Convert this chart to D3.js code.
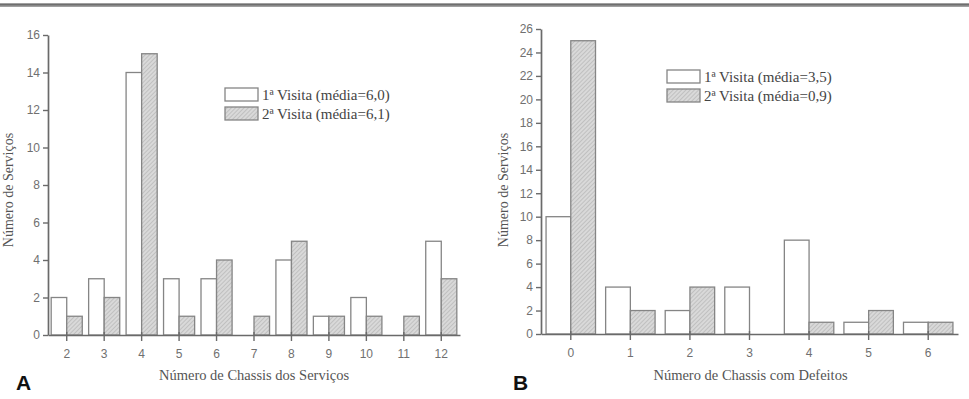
<!DOCTYPE html>
<html>
<head>
<meta charset="utf-8">
<script src="https://cdn.jsdelivr.net/npm/d3@7"></script>
<style>
  body { margin: 0; background: #fff; }
  svg { display: block; }
</style>
</head>
<body>
<div id="chart"></div>
<script>
// panel A data
const catsA = [2, 3, 4, 5, 6, 7, 8, 9, 10, 11, 12];
const visita1A = [2, 3, 14, 3, 3, 0, 4, 1, 2, 0, 5];
const visita2A = [1, 2, 15, 1, 4, 1, 5, 1, 1, 1, 3];
const legendA = ["1ª Visita (média=6,0)", "2ª Visita (média=6,1)"];

// panel B data
const catsB = [0, 1, 2, 3, 4, 5, 6];
const visita1B = [10, 4, 2, 4, 8, 1, 1];
const visita2B = [25, 2, 4, 0, 1, 2, 1];
const legendB = ["1ª Visita (média=3,5)", "2ª Visita (média=0,9)"];

const width = 969, height = 399;

const svg = d3.select("#chart").append("svg")
    .attr("width", width)
    .attr("height", height);

// hatch pattern for 2nd visit
const defs = svg.append("defs");
const pat = defs.append("pattern")
    .attr("id", "hatch")
    .attr("patternUnits", "userSpaceOnUse")
    .attr("width", 3)
    .attr("height", 3)
    .attr("patternTransform", "rotate(45)");
pat.append("rect").attr("width", 3).attr("height", 3).attr("fill", "#d9d9d9");
pat.append("line").attr("x1", 0).attr("y1", 0).attr("x2", 0).attr("y2", 3)
    .attr("stroke", "#ababab").attr("stroke-width", 1.1);

// top rule
svg.append("rect").attr("x", 0).attr("y", 3).attr("width", width).attr("height", 4).attr("fill", "#a0a0a0");
svg.append("rect").attr("x", 0).attr("y", 4).attr("width", width).attr("height", 1.5).attr("fill", "#6e6e6e");

function drawPanel(opt) {
    const x = d3.scaleBand().domain(opt.cats).range(opt.xRange).padding(0);
    const y = d3.scaleLinear().domain([0, opt.yMax]).range(opt.yRange);
    const g = svg.append("g");
    const bw = x.bandwidth() * 0.415;

    // bars visit 1
    g.selectAll(".b1").data(opt.cats).enter().append("rect")
        .attr("x", d => x(d) + x.bandwidth() / 2 - bw)
        .attr("y", (d, i) => y(opt.v1[i]))
        .attr("width", bw)
        .attr("height", (d, i) => y(0) - y(opt.v1[i]))
        .attr("fill", "#fff")
        .attr("stroke", "#858585")
        .attr("stroke-width", 1.3)
        .style("display", (d, i) => opt.v1[i] === 0 ? "none" : null);

    // bars visit 2
    g.selectAll(".b2").data(opt.cats).enter().append("rect")
        .attr("x", d => x(d) + x.bandwidth() / 2)
        .attr("y", (d, i) => y(opt.v2[i]))
        .attr("width", bw)
        .attr("height", (d, i) => y(0) - y(opt.v2[i]))
        .attr("fill", "url(#hatch)")
        .attr("stroke", "#858585")
        .attr("stroke-width", 1.3)
        .style("display", (d, i) => opt.v2[i] === 0 ? "none" : null);

    // y axis
    const yAxis = g.append("g")
        .attr("transform", "translate(" + opt.xRange[0] + ",0)")
        .call(d3.axisLeft(y).tickValues(d3.range(0, opt.yMax + 1, 2)).tickSizeInner(5).tickSizeOuter(0).tickPadding(3));

    // x axis
    const xAxis = g.append("g")
        .attr("transform", "translate(0," + opt.yRange[0] + ")")
        .call(d3.axisBottom(x).tickSizeInner(6).tickSizeOuter(0).tickPadding(8));
    xAxis.selectAll(".tick line").attr("y1", -3);

    [yAxis, xAxis].forEach(a => {
        a.select(".domain").attr("stroke", "#6a6a6a").attr("stroke-width", 1.7);
        a.selectAll(".tick line").attr("stroke", "#6a6a6a").attr("stroke-width", 1.4);
        a.selectAll(".tick text")
            .attr("fill", "#707070")
            .style("font-family", "'Liberation Sans', Arial, sans-serif")
            .style("font-size", "12px");
    });

    // axis titles
    g.append("text")
        .attr("x", (opt.xRange[0] + opt.xRange[1]) / 2 + opt.xTitleShift)
        .attr("y", 380)
        .attr("text-anchor", "middle")
        .attr("fill", "#555")
        .style("font-family", "'Liberation Serif', 'Times New Roman', serif")
        .style("font-size", "14.5px")
        .text(opt.xTitle);

    g.append("text")
        .attr("transform", "translate(" + opt.yTitleX + ",190) rotate(-90)")
        .attr("text-anchor", "middle")
        .attr("fill", "#555")
        .style("font-family", "'Liberation Serif', 'Times New Roman', serif")
        .style("font-size", "14px")
        .text("Número de Serviços");

    // legend
    const leg = g.append("g").attr("transform", "translate(" + opt.legX + "," + opt.legY + ")");
    opt.legend.forEach((t, i) => {
        leg.append("rect")
            .attr("x", 0)
            .attr("y", i * 19)
            .attr("width", 33)
            .attr("height", 13)
            .attr("fill", i === 0 ? "#fff" : "url(#hatch)")
            .attr("stroke", "#858585")
            .attr("stroke-width", 1.3);
        leg.append("text")
            .attr("x", 37)
            .attr("y", i * 19 + 12)
            .attr("fill", "#444")
            .style("font-family", "'Liberation Serif', 'Times New Roman', serif")
            .style("font-size", "15px")
            .text(t);
    });

    // panel letter
    g.append("text")
        .attr("x", opt.letterX)
        .attr("y", 390)
        .attr("fill", "#111")
        .style("font-family", "'Liberation Sans', Arial, sans-serif")
        .style("font-weight", "bold")
        .style("font-size", "21px")
        .text(opt.letter);
}

drawPanel({
    cats: catsA, v1: visita1A, v2: visita2A, legend: legendA,
    xRange: [48, 460], yRange: [335, 35], yMax: 16,
    xTitle: "Número de Chassis dos Serviços", xTitleShift: 0,
    yTitleX: 13, legX: 225, legY: 88, letter: "A", letterX: 16
});

drawPanel({
    cats: catsB, v1: visita1B, v2: visita2B, legend: legendB,
    xRange: [541, 958], yRange: [334, 29], yMax: 26,
    xTitle: "Número de Chassis com Defeitos", xTitleShift: 1,
    yTitleX: 508, legX: 667, legY: 70, letter: "B", letterX: 513
});
</script>
</body>
</html>
